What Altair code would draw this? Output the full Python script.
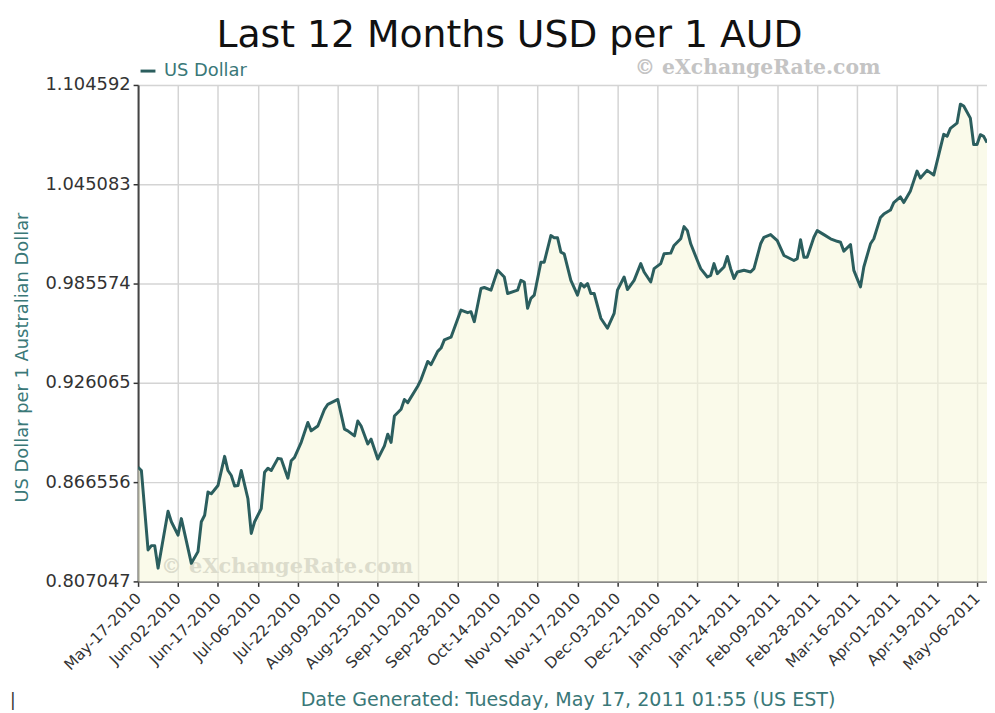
import altair as alt
import pandas as pd

TITLE = "Last 12 Months USD per 1 AUD"
SERIES = "US Dollar"
Y_TITLE = "US Dollar per 1 Australian Dollar"
FOOTER = "Date Generated: Tuesday, May 17, 2011 01:55 (US EST)"
WATERMARK = "\u00a9  eXchangeRate.com"

# x axis: one labelled tick every 12 trading days
tick_labels = [
    "May-17-2010", "Jun-02-2010", "Jun-17-2010", "Jul-06-2010", "Jul-22-2010",
    "Aug-09-2010", "Aug-25-2010", "Sep-10-2010", "Sep-28-2010", "Oct-14-2010",
    "Nov-01-2010", "Nov-17-2010", "Dec-03-2010", "Dec-21-2010", "Jan-06-2011",
    "Jan-24-2011", "Feb-09-2011", "Feb-28-2011", "Mar-16-2011", "Apr-01-2011",
    "Apr-19-2011", "May-06-2011",
]
TICK_STEP = 12
tick_days = [i * TICK_STEP for i in range(len(tick_labels))]

y_ticks = [0.807047, 0.866556, 0.926065, 0.985574, 1.045083, 1.104592]

# trading-day index and USD per 1 AUD
day_index = [
    0, 1, 3, 4, 5, 6, 9, 10, 12, 13, 16, 18, 19, 20, 21, 22, 24, 26, 27, 28,
    29, 30, 31, 33, 34, 35, 37, 38, 39, 40, 42, 43, 45, 46, 47, 49, 51, 52, 54, 56,
    57, 60, 62, 63, 65, 66, 67, 69, 70, 72, 74, 75, 76, 77, 79, 80, 81, 84, 85, 87,
    88, 90, 91, 92, 94, 97, 99, 100, 101, 103, 104, 106, 108, 110, 111, 114, 115, 116, 117, 118,
    119, 121, 122, 124, 125, 126, 127, 128, 130, 132, 133, 134, 135, 136, 137, 139, 141, 143, 144, 146,
    147, 149, 151, 152, 154, 155, 157, 158, 160, 161, 163, 164, 165, 166, 168, 169, 171, 172, 173, 174,
    176, 177, 178, 179, 180, 182, 184, 185, 187, 188, 190, 192, 194, 197, 198, 199, 200, 201, 203, 204,
    206, 208, 210, 211, 212, 214, 215, 217, 218, 220, 221, 223, 224, 226, 227, 229, 230, 232, 234, 235,
    237, 239, 242, 243, 244, 246, 247, 248, 250, 251, 252, 253, 254, 255,
]
usd_per_aud = [
    0.8755, 0.8735, 0.8259, 0.8285, 0.8285, 0.8150, 0.8491, 0.8428, 0.8348, 0.8447,
    0.8179, 0.8249, 0.8428, 0.8467, 0.8606, 0.8596, 0.8645, 0.8820, 0.8735, 0.8705,
    0.8642, 0.8645, 0.8735, 0.8566, 0.8358, 0.8428, 0.8507, 0.8725, 0.8749, 0.8735,
    0.8808, 0.8804, 0.8689, 0.8794, 0.8814, 0.8904, 0.9023, 0.8973, 0.9002, 0.9102,
    0.9132, 0.9161, 0.8983, 0.8973, 0.8943, 0.9032, 0.9002, 0.8894, 0.8923, 0.8804,
    0.8883, 0.8953, 0.8904, 0.9062, 0.9102, 0.9161, 0.9142, 0.9240, 0.9280, 0.9389,
    0.9370, 0.9449, 0.9469, 0.9518, 0.9534, 0.9697, 0.9681, 0.9687, 0.9627, 0.9826,
    0.9832, 0.9816, 0.9935, 0.9895, 0.9796, 0.9816, 0.9875, 0.9865, 0.9707, 0.9767,
    0.9786, 0.9983, 0.9984, 1.0143, 1.0130, 1.0130, 1.0044, 1.0034, 0.9875, 0.9786,
    0.9856, 0.9836, 0.9856, 0.9796, 0.9796, 0.9648, 0.9588, 0.9677, 0.9816, 0.9895,
    0.9820, 0.9875, 0.9975, 0.9925, 0.9865, 0.9945, 0.9975, 1.0034, 1.0038, 1.0084,
    1.0124, 1.0197, 1.0173, 1.0094, 0.9994, 0.9945, 0.9895, 0.9905, 0.9975, 0.9915,
    0.9955, 1.0018, 0.9945, 0.9886, 0.9925, 0.9935, 0.9925, 0.9945, 1.0094, 1.0133,
    1.0149, 1.0113, 1.0024, 0.9994, 1.0005, 1.0118, 1.0014, 1.0014, 1.0133, 1.0173,
    1.0149, 1.0124, 1.0109, 1.0103, 1.0050, 1.0090, 0.9935, 0.9836, 0.9955, 1.0094,
    1.0124, 1.0252, 1.0272, 1.0296, 1.0341, 1.0375, 1.0341, 1.0411, 1.0530, 1.0488,
    1.0534, 1.0506, 1.0750, 1.0738, 1.0786, 1.0817, 1.0931, 1.0920, 1.0847, 1.0689,
    1.0689, 1.0748, 1.0738, 1.0700,
]
assert len(day_index) == len(usd_per_aud)

TEAL = "#2b5e5e"
TEXT_TEAL = "#3a7878"
FONT = "DejaVu Sans"

df = pd.DataFrame({"day": day_index, "usd": usd_per_aud, "series": SERIES})

label_array = "[" + ",".join("'%s'" % s for s in tick_labels) + "]"

x_enc = alt.X(
    "day:Q",
    scale=alt.Scale(domain=[0, 255], nice=False, zero=False),
    axis=alt.Axis(
        values=tick_days,
        labelExpr=label_array + "[round(datum.value / %d)]" % TICK_STEP,
        labelAngle=315,
        labelAlign="right",
        labelBaseline="middle",
        labelPadding=9,
        labelFont=FONT,
        labelFontSize=15.5,
        labelColor="#333333",
        labelOverlap=False,
        title=None,
        grid=True,
        gridColor="#d4d4d4",
        gridWidth=1.5,
        domainColor="#888888",
        domainWidth=2,
        tickColor="#333333",
        tickSize=5,
        tickWidth=1.5,
    ),
)
y_enc = alt.Y(
    "usd:Q",
    scale=alt.Scale(domain=[y_ticks[0], y_ticks[-1]], nice=False, zero=False),
    axis=alt.Axis(
        values=y_ticks,
        format=".6f",
        title=Y_TITLE,
        titleFont=FONT,
        titleFontSize=18,
        titleFontWeight="normal",
        titleColor=TEXT_TEAL,
        titleAngle=270,
        titleAlign="center",
        titleBaseline="middle",
        titleX=-116,
        titleY=274,
        labelFont=FONT,
        labelFontSize=18,
        labelColor="#333333",
        labelPadding=3,
        grid=True,
        gridColor="#d4d4d4",
        gridWidth=1.5,
        domainColor="#444444",
        domainWidth=2,
        tickColor="#333333",
        tickSize=5,
        tickWidth=1.5,
    ),
)

base = alt.Chart(df)

area = base.mark_area(color="#f7f7dc", opacity=0.6, clip=True).encode(x=x_enc, y=y_enc)

line = base.mark_line(strokeWidth=3, strokeJoin="round", clip=True).encode(
    x=x_enc,
    y=y_enc,
    color=alt.Color(
        "series:N",
        scale=alt.Scale(domain=[SERIES], range=[TEAL]),
        legend=alt.Legend(
            orient="none",
            legendX=1,
            legendY=-23,
            title=None,
            symbolType="stroke",
            symbolSize=225,
            symbolStrokeWidth=3,
            symbolStrokeColor=TEAL,
            labelFont=FONT,
            labelFontSize=18,
            labelColor=TEXT_TEAL,
            labelOffset=7,
            padding=0,
        ),
    ),
)


def text_layer(s, x, y, size, color, align="center", font=FONT, weight="normal"):
    return alt.Chart(pd.DataFrame({"t": [s]})).mark_text(
        font=font, fontSize=size, fontWeight=weight, color=color,
        align=align, baseline="alphabetic",
    ).encode(text="t:N", x=alt.value(x), y=alt.value(y))


title = text_layer(TITLE, 374, -38, 38, "#111111")
wm_top = text_layer(WATERMARK, 624, -11, 20.5, "#c4c4c4", font="DejaVu Serif", weight="bold")
wm_low = text_layer(WATERMARK, 150, 492, 21, "#dcdccc", font="DejaVu Serif", weight="bold")
footer = text_layer(FOOTER, 433, 625, 19.2, TEXT_TEAL)
bar = text_layer("|", -129, 625, 17, "#333333", align="left")

chart = (
    alt.layer(area, wm_low, line, wm_top, title, footer, bar)
    .properties(
        width=855,
        height=500,
        padding={"left": 131, "top": 75, "right": 0, "bottom": 128},
        autosize=alt.AutoSizeParams(type="none"),
    )
    .configure_view(strokeWidth=0)
    .configure(background="white")
)

chart.save("out.html", embed_options={"renderer": "svg", "actions": False})
